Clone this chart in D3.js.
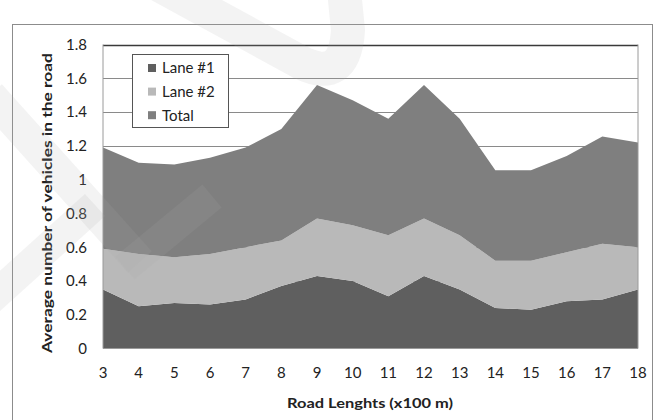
<!DOCTYPE html>
<html>
<head>
<meta charset="utf-8">
<script src="https://cdn.jsdelivr.net/npm/d3@7"></script>
<style>
  html, body { margin: 0; padding: 0; background: #fff; }
  svg { display: block; font-family: Lato, "Open Sans", sans-serif; }
</style>
</head>
<body>
<svg id="chart" width="657" height="420"></svg>
<script>
// road lengths (x100 m)
var categories = [3, 4, 5, 6, 7, 8, 9, 10, 11, 12, 13, 14, 15, 16, 17, 18];
var lane1 = [0.35, 0.25, 0.27, 0.26, 0.29, 0.37, 0.43, 0.40, 0.31, 0.43, 0.35, 0.24, 0.23, 0.28, 0.29, 0.35];
var lane2 = [0.24, 0.31, 0.27, 0.30, 0.31, 0.27, 0.34, 0.33, 0.36, 0.34, 0.32, 0.28, 0.29, 0.29, 0.33, 0.25];
var total = [0.60, 0.54, 0.55, 0.57, 0.59, 0.66, 0.79, 0.74, 0.69, 0.79, 0.69, 0.535, 0.535, 0.57, 0.635, 0.62];
var yTicks = [0, 0.2, 0.4, 0.6, 0.8, 1, 1.2, 1.4, 1.6, 1.8];

var seriesNames = ["Lane #1", "Lane #2", "Total"];
var colors = {"Lane #1": "#5f5f5f", "Lane #2": "#b9b9b9", "Total": "#7f7f7f"};

var rows = categories.map(function(c, i) {
  return {cat: c, "Lane #1": lane1[i], "Lane #2": lane2[i], "Total": total[i]};
});

var svg = d3.select("#chart");

// outer chart frame
svg.append("rect")
    .attr("x", 12.5).attr("y", 24.5)
    .attr("width", 640).attr("height", 420)
    .attr("fill", "#fff")
    .attr("stroke", "#8c8c8c");

var plotLeft = 103, plotRight = 638, plotTop = 44.5, plotBottom = 348.5;

var x = d3.scalePoint()
    .domain(categories)
    .range([plotLeft, plotRight]);

var y = d3.scaleLinear()
    .domain([0, 1.8])
    .range([plotBottom, plotTop]);

// gridlines
svg.append("g")
  .selectAll("line")
  .data(yTicks.slice(1))
  .enter().append("line")
    .attr("x1", plotLeft).attr("x2", plotRight)
    .attr("y1", function(d) { return Math.round(y(d)) + 0.5; })
    .attr("y2", function(d) { return Math.round(y(d)) + 0.5; })
    .attr("stroke", function(d) { return d == 1.8 ? "#3a3a3a" : "#8a8a8a"; })
    .attr("stroke-width", function(d) { return d == 1.8 ? 1.4 : 1; });

// stacked areas
var stack = d3.stack().keys(seriesNames);
var area = d3.area()
    .x(function(d) { return x(d.data.cat); })
    .y0(function(d) { return y(d[0]); })
    .y1(function(d) { return y(d[1]); });

svg.append("g")
  .selectAll("path")
  .data(stack(rows))
  .enter().append("path")
    .attr("fill", function(d) { return colors[d.key]; })
    .attr("d", area);

// plot border (right / bottom / left)
svg.append("path")
    .attr("d", "M" + plotLeft + "," + plotTop + "V" + plotBottom + "H" + plotRight + "V" + plotTop)
    .attr("fill", "none")
    .attr("stroke", "#9a9a9a");

// y tick labels
svg.append("g")
  .selectAll("text")
  .data(yTicks)
  .enter().append("text")
    .attr("x", 87)
    .attr("y", function(d) { return y(d); })
    .attr("dy", "0.36em")
    .attr("text-anchor", "end")
    .attr("font-size", 15)
    .attr("fill", "#222")
    .text(function(d) { return d3.format("~g")(d); });

// x tick labels
svg.append("g")
  .selectAll("text")
  .data(categories)
  .enter().append("text")
    .attr("x", function(d) { return x(d); })
    .attr("y", 373)
    .attr("dy", "0.36em")
    .attr("text-anchor", "middle")
    .attr("font-size", 15)
    .attr("fill", "#222")
    .text(function(d) { return d; });

// axis titles
svg.append("text")
    .attr("transform", "translate(47,203) rotate(-90)")
    .attr("text-anchor", "middle")
    .attr("dy", "0.36em")
    .attr("font-size", 14)
    .attr("font-weight", "bold")
    .attr("fill", "#222")
    .attr("textLength", 300)
    .attr("lengthAdjust", "spacingAndGlyphs")
    .text("Average number of vehicles in the road");

svg.append("text")
    .attr("x", 370)
    .attr("y", 403)
    .attr("text-anchor", "middle")
    .attr("dy", "0.36em")
    .attr("font-size", 14)
    .attr("font-weight", "bold")
    .attr("fill", "#222")
    .attr("textLength", 166)
    .attr("lengthAdjust", "spacingAndGlyphs")
    .text("Road Lenghts (x100 m)");

// legend
var legend = svg.append("g");
legend.append("rect")
    .attr("x", 132.5).attr("y", 54.5)
    .attr("width", 96).attr("height", 73)
    .attr("fill", "#fff")
    .attr("stroke", "#555");

var item = legend.selectAll(".item")
  .data(seriesNames)
  .enter().append("g")
    .attr("class", "item")
    .attr("transform", function(d, i) { return "translate(148," + (68 + i * 23.6) + ")"; });

item.append("rect")
    .attr("x", 0).attr("y", -4)
    .attr("width", 8).attr("height", 8)
    .attr("fill", function(d) { return colors[d]; });

item.append("text")
    .attr("x", 14)
    .attr("dy", "0.36em")
    .attr("font-size", 15)
    .attr("fill", "#222")
    .text(function(d) { return d; });

// faint watermark bands
var wm = svg.append("g")
    .attr("fill", "none")
    .attr("stroke", "rgb(170,170,170)")
    .attr("stroke-opacity", 0.14)
    .attr("stroke-linecap", "butt");
wm.append("path").attr("stroke-width", 34).attr("d", "M150,-20 L300,62 Q345,85 348,30 L344,-10");
wm.append("path").attr("stroke-width", 32).attr("d", "M-10,95 L140,262");
wm.append("path").attr("stroke-width", 30).attr("d", "M125,268 L212,196");
wm.append("path").attr("stroke-width", 30).attr("d", "M-10,300 L95,205");
</script>
</body>
</html>
